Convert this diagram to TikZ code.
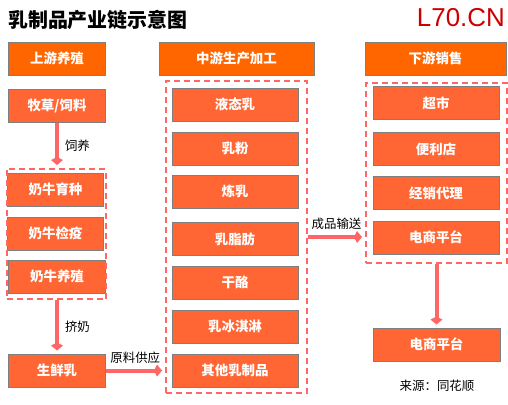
\documentclass[tikz,border=0pt]{standalone}
\usepackage{fontspec}
\setmainfont{Noto Sans CJK SC}
\newfontfamily\latinfont{Liberation Sans}
\usetikzlibrary{arrows.meta,fit,calc}
\definecolor{hdrfill}{HTML}{FF6600}
\definecolor{boxfill}{HTML}{FF6633}
\definecolor{boxline}{HTML}{7F7F7F}
\definecolor{linkred}{HTML}{FF6666}
\definecolor{logored}{HTML}{CC0000}
\tikzset{
  hdr/.style={draw=boxline, line width=1bp, fill=hdrfill, text=white, inner sep=0pt,
    minimum height=33bp, font=\fontsize{13.5}{15}\selectfont\bfseries},
  itembox/.style={draw=boxline, line width=1bp, fill=boxfill, text=white, inner sep=0pt,
    minimum width=126bp, minimum height=33bp, font=\fontsize{13.5}{15}\selectfont\bfseries},
  grp/.style={draw=linkred, line width=2bp, dash pattern=on 6bp off 4bp, inner sep=0pt},
  link/.style={draw=linkred, line width=4bp, -{Kite[length=8bp,width=12bp,inset=3bp]}, shorten >=3bp},
  lbl/.style={font=\fontsize{12.5}{14}\selectfont, text=black, inner sep=0pt}
}
\begin{document}
\begin{tikzpicture}[x=1bp,y=-1bp]
\useasboundingbox (0,0) rectangle (508,404);
% title
\node[anchor=west, inner sep=0pt, font=\fontsize{20}{22}\selectfont\bfseries] (title) at (8,20) {乳制品产业链示意图};
\node[anchor=east, inner sep=0pt, text=logored, font=\latinfont\fontsize{26}{28}\selectfont] (logo) at (505,18) {L70.CN};
% headers
\node[hdr, minimum width=96bp] (h1) at (57,58.5) {上游养殖};
\node[hdr, minimum width=155bp] (h2) at (236.5,58.5) {中游生产加工};
\node[hdr, minimum width=141bp] (h3) at (435.5,58.5) {下游销售};
% left column
\node[itembox, minimum width=96bp] (mucao) at (57,105.5) {牧草/饲料};
\node[itembox, minimum width=96bp] (yuzhong) at (55.5,189.5) {奶牛育种};
\node[itembox, minimum width=96bp] (jianyi) at (55.5,233.5) {奶牛检疫};
\node[itembox, minimum width=96bp] (yangzhi) at (57,276.5) {奶牛养殖};
\node[itembox, minimum width=96bp] (xianru) at (57,370.5) {生鲜乳};
\node[grp, fit={(6.5,169) (106,299)}] (lg) {};
% middle column
\node[itembox] (m1) at (235,104.5) {液态乳};
\node[itembox] (m2) at (235,148.5) {乳粉};
\node[itembox] (m3) at (235,191.5) {炼乳};
\node[itembox] (m4) at (235,239) {乳脂肪};
\node[itembox] (m5) at (235,282.5) {干酪};
\node[itembox] (m6) at (235,326.5) {乳冰淇淋};
\node[itembox] (m7) at (235,370.5) {其他乳制品};
\node[grp, fit={(166,81) (307,393)}] (mg) {};
% right column
\node[itembox] (r1) at (436,103) {超市};
\node[itembox] (r2) at (436,149) {便利店};
\node[itembox] (r3) at (436,193) {经销代理};
\node[itembox] (r4) at (436,237.5) {电商平台};
\node[grp, fit={(366,83) (507,263)}] (rg) {};
\node[itembox, minimum width=127bp] (r5) at (436.5,344.5) {电商平台};
% connectors
\draw[link] (mucao.south) -- (mucao.south |- lg.north) node[lbl, midway, right=6bp] (l1) {饲养};
\draw[link] (yangzhi.south |- lg.south) -- (xianru.north) node[lbl, midway, right=6bp] (l2) {挤奶};
\draw[link] (xianru.east) -- (xianru.east -| mg.west) node[lbl, midway, above=5bp] (l3) {原料供应};
\draw[link] (mg.east) -- (mg.east -| rg.west) node[lbl, midway, above=5bp] (l4) {成品输送};
\draw[link] (r5.north |- rg.south) -- (r5.north);
% source
\node[lbl] (src) at (437,386) {来源：同花顺};
\end{tikzpicture}
\end{document}
